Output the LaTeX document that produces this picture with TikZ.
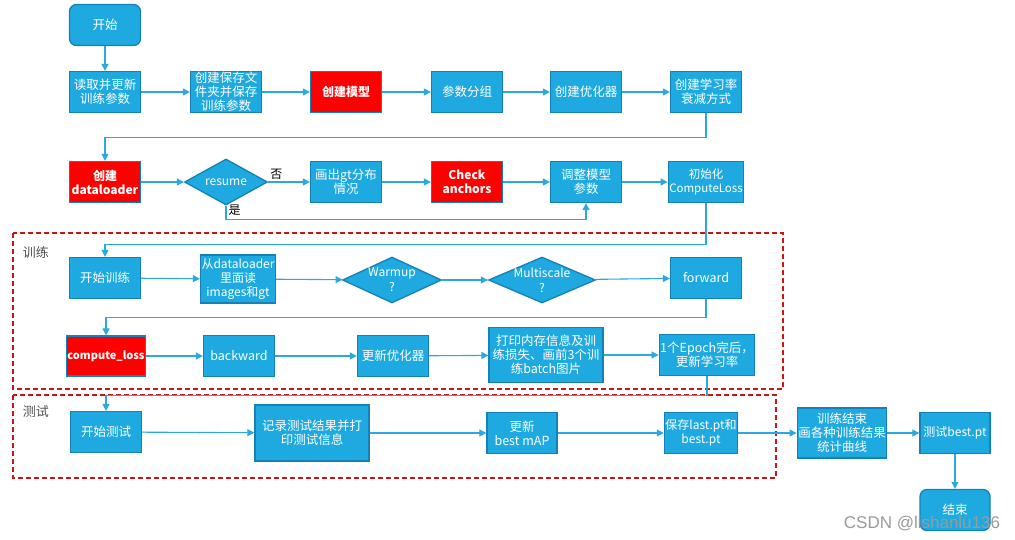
\documentclass[tikz,border=0pt]{standalone}
\usepackage{fontspec}
\setmainfont{Noto Sans CJK SC}
\newfontfamily\markfont{Liberation Sans}
\usepackage{tikz}
\usetikzlibrary{arrows.meta,positioning,shapes.geometric}
\definecolor{flowBlue}{HTML}{1EAAE0}
\definecolor{flowEdge}{HTML}{1680B8}
\definecolor{flowLine}{HTML}{2AA8E0}
\definecolor{flowRed}{HTML}{FF0000}
\definecolor{frameRed}{HTML}{C81414}
\definecolor{labelGray}{HTML}{505050}
\definecolor{markGray}{HTML}{9A9A9A}

\begin{document}
\begin{tikzpicture}[
  x=1pt,
  y=-1pt,
  >=Latex,
  line/.style={-{Triangle[length=7pt,width=7pt]}, line width=1.1pt, draw=flowLine},
  box/.style={
    draw=flowEdge,
    line width=1.3pt,
    fill=flowBlue,
    text=white,
    align=center,
    minimum width=71pt,
    minimum height=41pt,
    inner sep=1pt,
    font=\fontsize{12.5}{14}\selectfont
  },
  redbox/.style={box, fill=flowRed, font=\fontsize{12}{14}\selectfont\bfseries},
  endbox/.style={box, rounded corners=7pt},
  decision/.style={
    diamond,
    aspect=2,
    draw=flowEdge,
    line width=1.3pt,
    fill=flowBlue,
    text=white,
    align=center,
    inner sep=-5pt,
    minimum height=46pt,
    font=\fontsize{12}{15}\selectfont
  },
  frame/.style={draw=frameRed, line width=1.4pt, dash pattern=on 5pt off 3pt},
  tag/.style={text=labelGray, font=\fontsize{13}{15}\selectfont},
  note/.style={font=\fontsize{12}{14}\selectfont, inner sep=2pt}
]
\useasboundingbox (0,0) rectangle (1015,540);

% dashed groups
\draw[frame] (13,233) rectangle (783,389);
\draw[frame] (13,395) rectangle (776,478);
\node[tag] (trainTag) at (36,253) {训练};
\node[tag] (testTag)  at (36,412) {测试};

% setup
\node[endbox]  (start)   at (105, 25) {开始};
\node[box]     (read)    at (105, 92) {读取并更新\\训练参数};
\node[box]     (savedir) at (226, 92) {创建保存文\\件夹并保存\\训练参数};
\node[redbox]  (model)   at (346, 92) {创建模型};
\node[box]     (group)   at (467, 92) {参数分组};
\node[box]     (optim)   at (586, 92) {创建优化器};
\node[box]     (lr)      at (706, 92) {创建学习率\\衰减方式};

\node[redbox]   (dataloader) at (105,182) {创建\\dataloader};
\node[decision, minimum width=83pt] (resume) at (226,182) {resume};
\node[box]      (gt)      at (346,182) {画出gt分布\\情况};
\node[redbox]   (anchors) at (467,182) {Check\\anchors};
\node[box]      (adjust)  at (586,182) {调整模型\\参数};
\node[box, font=\fontsize{11.5}{14}\selectfont] (init) at (706,182) {初始化\\ComputeLoss};

% training
\node[box]      (train)   at (105,278) {开始训练};
\node[box, minimum height=48pt, font=\fontsize{12}{14}\selectfont] (fetch) at (238,279) {从dataloader\\里面读\\images和gt};
\node[decision, minimum width=99pt]  (warmup) at (392,280) {Warmup\\?};
\node[decision, minimum width=107pt] (scale)  at (542,280) {Multiscale\\?};
\node[box]      (forward) at (706,278) {forward};

\node[redbox, minimum width=78pt, minimum height=40pt, font=\fontsize{11}{14}\selectfont\bfseries] (loss) at (106,356) {compute\_loss};
\node[box]      (backward) at (239,356) {backward};
\node[box]      (update)   at (393,356) {更新优化器};
\node[box, minimum width=114pt, minimum height=55pt] (print) at (546,355) {打印内存信息及训\\练损失、画前3个训\\练batch图片};
\node[box, minimum width=90pt] (epoch) at (707,355) {1个Epoch完后，\\更新学习率};

% testing
\node[box]      (test)     at (106,432) {开始测试};
\node[box, minimum width=114pt, minimum height=56pt] (record) at (312,433) {记录测试结果并打\\印测试信息};
\node[box, minimum width=70pt] (best) at (522,433) {更新\\best mAP};
\node[box, minimum width=70pt, font=\fontsize{12}{14}\selectfont] (save) at (701,433) {保存last.pt和\\best.pt};
\node[box, minimum width=88pt, minimum height=50pt] (finish) at (842,433) {训练结束\\画各种训练结果\\统计曲线};
\node[box, minimum width=70pt, font=\fontsize{12}{14}\selectfont] (testbest) at (955,433) {测试best.pt};
\node[endbox, minimum width=70pt] (stop) at (955,510) {结束};

\node[font=\markfont\fontsize{17}{19}\selectfont, text=markGray] (mark) at (922,524) {CSDN @lishanlu136};

\draw[line] (start) -- (read);
\draw[line] (read) -- (savedir);
\draw[line] (savedir) -- (model);
\draw[line] (model) -- (group);
\draw[line] (group) -- (optim);
\draw[line] (optim) -- (lr);
\draw[line] (lr.south) -- ++(0,24) -| (dataloader.north);

\draw[line] (dataloader) -- (resume);
\draw[line] (resume.east) -- node[note, above, pos=0.2] {否} (gt.west);
\draw[line] (resume.south) -- node[note, right, pos=0.35] {是} ++(0,14) -| (adjust.south);
\draw[line] (gt) -- (anchors);
\draw[line] (anchors) -- (adjust);
\draw[line] (adjust) -- (init);
\draw[line] (init.south) -- ++(0,41) -| (train.north);

\draw[line] (train) -- (fetch);
\draw[line] (fetch) -- (warmup);
\draw[line] (warmup) -- (scale);
\draw[line] (scale) -- (forward);
\draw[line] (forward.south) -- ++(0,18) -| (loss.north);

\draw[line] (loss) -- (backward);
\draw[line] (backward) -- (update);
\draw[line] (update) -- (print);
\draw[line] (print) -- (epoch);
\draw[line] (epoch.south) -- ++(0,19) -| (test.north);

\draw[line] (test) -- (record);
\draw[line] (record) -- (best);
\draw[line] (best) -- (save);
\draw[line] (save) -- (finish);
\draw[line] (finish) -- (testbest);
\draw[line] (testbest) -- (stop);
\end{tikzpicture}
\end{document}
